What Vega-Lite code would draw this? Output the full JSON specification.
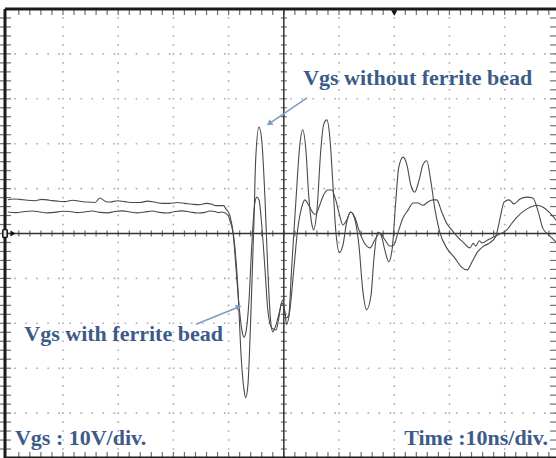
{
  "$schema": "https://vega.github.io/schema/vega-lite/v6.json",
  "width": 551,
  "height": 449,
  "autosize": {"type": "none"},
  "padding": {"left": 5, "top": 9, "right": 0, "bottom": 0},
  "background": "white",
  "config": {"view": {"stroke": null}},
  "datasets": {
    "traces": [
      {"s":"without","t":-50.0,"v":7.5},{"s":"without","t":-48.9,"v":7.7},{"s":"without","t":-47.8,"v":7.6},{"s":"without","t":-46.5,"v":7.4},{"s":"without","t":-45.1,"v":7.3},{"s":"without","t":-43.8,"v":7.6},{"s":"without","t":-42.4,"v":7.4},{"s":"without","t":-41.0,"v":7.2},{"s":"without","t":-39.7,"v":7.1},{"s":"without","t":-38.3,"v":7.4},{"s":"without","t":-37.0,"v":7.2},{"s":"without","t":-35.6,"v":7.0},{"s":"without","t":-34.2,"v":6.9},{"s":"without","t":-33.3,"v":7.9},{"s":"without","t":-32.4,"v":7.2},{"s":"without","t":-31.5,"v":7.0},{"s":"without","t":-30.1,"v":7.3},{"s":"without","t":-28.8,"v":7.1},{"s":"without","t":-27.4,"v":6.9},{"s":"without","t":-26.1,"v":6.9},{"s":"without","t":-24.7,"v":7.2},{"s":"without","t":-23.4,"v":7.0},{"s":"without","t":-22.0,"v":6.7},{"s":"without","t":-20.7,"v":6.7},{"s":"without","t":-19.3,"v":6.9},{"s":"without","t":-17.9,"v":6.7},{"s":"without","t":-16.5,"v":6.5},{"s":"without","t":-15.2,"v":6.4},{"s":"without","t":-14.1,"v":6.7},{"s":"without","t":-13.0,"v":6.5},{"s":"without","t":-12.3,"v":6.2},{"s":"without","t":-11.6,"v":6.2},{"s":"without","t":-10.9,"v":6.2},{"s":"without","t":-10.5,"v":5.5},{"s":"without","t":-9.8,"v":4.1},{"s":"without","t":-9.4,"v":1.9},{"s":"without","t":-8.9,"v":-2.6},{"s":"without","t":-8.3,"v":-12.6},{"s":"without","t":-7.8,"v":-25.9},{"s":"without","t":-7.2,"v":-34.9},{"s":"without","t":-6.9,"v":-36.6},{"s":"without","t":-6.5,"v":-33.7},{"s":"without","t":-6.0,"v":-19.3},{"s":"without","t":-5.4,"v":3.0},{"s":"without","t":-5.1,"v":16.4},{"s":"without","t":-4.5,"v":23.7},{"s":"without","t":-4.0,"v":20.8},{"s":"without","t":-3.4,"v":7.5},{"s":"without","t":-2.9,"v":-8.1},{"s":"without","t":-2.4,"v":-19.3},{"s":"without","t":-2.0,"v":-21.9},{"s":"without","t":-1.4,"v":-20.3},{"s":"without","t":-0.7,"v":-17.0},{"s":"without","t":-0.2,"v":-14.8},{"s":"without","t":0.4,"v":-18.8},{"s":"without","t":0.9,"v":-18.2},{"s":"without","t":1.4,"v":-8.1},{"s":"without","t":2.2,"v":7.5},{"s":"without","t":2.9,"v":19.7},{"s":"without","t":3.4,"v":23.1},{"s":"without","t":4.0,"v":18.6},{"s":"without","t":4.5,"v":8.6},{"s":"without","t":5.1,"v":1.9},{"s":"without","t":5.4,"v":0.8},{"s":"without","t":6.0,"v":5.2},{"s":"without","t":6.7,"v":18.6},{"s":"without","t":7.2,"v":24.2},{"s":"without","t":7.8,"v":25.3},{"s":"without","t":8.3,"v":21.9},{"s":"without","t":8.9,"v":10.8},{"s":"without","t":9.4,"v":0.8},{"s":"without","t":10.1,"v":-4.3},{"s":"without","t":10.7,"v":-2.6},{"s":"without","t":11.4,"v":2.6},{"s":"without","t":12.1,"v":4.8},{"s":"without","t":12.9,"v":3.0},{"s":"without","t":13.6,"v":-2.6},{"s":"without","t":14.3,"v":-12.6},{"s":"without","t":15.0,"v":-17.0},{"s":"without","t":15.8,"v":-13.7},{"s":"without","t":16.3,"v":-5.9},{"s":"without","t":17.0,"v":0.3},{"s":"without","t":17.6,"v":-0.3},{"s":"without","t":18.3,"v":-3.7},{"s":"without","t":19.0,"v":-6.3},{"s":"without","t":19.6,"v":-3.7},{"s":"without","t":20.3,"v":7.5},{"s":"without","t":20.8,"v":14.6},{"s":"without","t":21.6,"v":17.0},{"s":"without","t":22.3,"v":15.3},{"s":"without","t":23.0,"v":10.8},{"s":"without","t":23.7,"v":9.2},{"s":"without","t":24.5,"v":11.9},{"s":"without","t":25.2,"v":15.3},{"s":"without","t":25.9,"v":16.2},{"s":"without","t":26.6,"v":11.9},{"s":"without","t":27.4,"v":5.2},{"s":"without","t":28.3,"v":0.1},{"s":"without","t":29.5,"v":-3.2},{"s":"without","t":31.0,"v":-5.5},{"s":"without","t":32.2,"v":-7.5},{"s":"without","t":33.2,"v":-8.1},{"s":"without","t":34.1,"v":-6.3},{"s":"without","t":35.1,"v":-4.1},{"s":"without","t":36.2,"v":-2.8},{"s":"without","t":37.3,"v":-2.1},{"s":"without","t":38.4,"v":-0.6},{"s":"without","t":39.1,"v":3.0},{"s":"without","t":39.9,"v":7.0},{"s":"without","t":40.8,"v":7.5},{"s":"without","t":41.7,"v":6.6},{"s":"without","t":42.8,"v":7.7},{"s":"without","t":44.0,"v":8.1},{"s":"without","t":45.1,"v":7.9},{"s":"without","t":46.0,"v":5.2},{"s":"without","t":46.9,"v":1.2},{"s":"without","t":48.0,"v":-0.3},{"s":"without","t":49.3,"v":-1.9},
      {"s":"with","t":-50.0,"v":4.8},{"s":"with","t":-48.5,"v":4.65},{"s":"with","t":-46.9,"v":4.9},{"s":"with","t":-45.5,"v":5.0},{"s":"with","t":-44.2,"v":4.8},{"s":"with","t":-42.8,"v":4.6},{"s":"with","t":-41.5,"v":4.7},{"s":"with","t":-40.1,"v":4.95},{"s":"with","t":-38.8,"v":4.9},{"s":"with","t":-37.4,"v":4.65},{"s":"with","t":-36.1,"v":4.8},{"s":"with","t":-34.7,"v":5.0},{"s":"with","t":-33.3,"v":4.7},{"s":"with","t":-31.9,"v":4.6},{"s":"with","t":-30.6,"v":4.9},{"s":"with","t":-29.2,"v":5.05},{"s":"with","t":-27.9,"v":4.8},{"s":"with","t":-26.5,"v":4.6},{"s":"with","t":-25.2,"v":4.8},{"s":"with","t":-23.8,"v":5.0},{"s":"with","t":-22.5,"v":4.7},{"s":"with","t":-21.1,"v":4.55},{"s":"with","t":-19.7,"v":4.9},{"s":"with","t":-18.4,"v":5.05},{"s":"with","t":-17.0,"v":4.8},{"s":"with","t":-15.6,"v":4.55},{"s":"with","t":-14.3,"v":4.7},{"s":"with","t":-13.4,"v":5.0},{"s":"with","t":-12.5,"v":4.9},{"s":"with","t":-11.8,"v":4.65},{"s":"with","t":-11.2,"v":4.8},{"s":"with","t":-10.1,"v":4.1},{"s":"with","t":-9.8,"v":3.0},{"s":"with","t":-9.2,"v":0.1},{"s":"with","t":-8.7,"v":-7.0},{"s":"with","t":-8.2,"v":-14.8},{"s":"with","t":-7.6,"v":-21.5},{"s":"with","t":-7.2,"v":-23.1},{"s":"with","t":-6.9,"v":-22.2},{"s":"with","t":-6.3,"v":-14.8},{"s":"with","t":-5.8,"v":-2.6},{"s":"with","t":-5.3,"v":6.3},{"s":"with","t":-4.9,"v":8.1},{"s":"with","t":-4.5,"v":7.5},{"s":"with","t":-4.0,"v":1.9},{"s":"with","t":-3.4,"v":-8.1},{"s":"with","t":-2.9,"v":-17.0},{"s":"with","t":-2.2,"v":-21.0},{"s":"with","t":-1.4,"v":-21.5},{"s":"with","t":-0.9,"v":-18.8},{"s":"with","t":-0.4,"v":-15.5},{"s":"with","t":0.2,"v":-17.5},{"s":"with","t":0.5,"v":-20.3},{"s":"with","t":1.1,"v":-17.0},{"s":"with","t":1.8,"v":-8.1},{"s":"with","t":2.5,"v":0.8},{"s":"with","t":3.3,"v":6.1},{"s":"with","t":3.8,"v":7.5},{"s":"with","t":4.5,"v":6.3},{"s":"with","t":5.3,"v":4.6},{"s":"with","t":5.8,"v":4.3},{"s":"with","t":6.5,"v":6.3},{"s":"with","t":7.2,"v":8.6},{"s":"with","t":8.0,"v":9.7},{"s":"with","t":8.7,"v":9.7},{"s":"with","t":9.4,"v":7.5},{"s":"with","t":10.1,"v":4.1},{"s":"with","t":10.7,"v":1.9},{"s":"with","t":11.4,"v":3.0},{"s":"with","t":12.1,"v":4.8},{"s":"with","t":12.9,"v":3.5},{"s":"with","t":13.6,"v":0.8},{"s":"with","t":14.5,"v":-1.9},{"s":"with","t":15.6,"v":-3.2},{"s":"with","t":16.5,"v":-1.4},{"s":"with","t":17.4,"v":0.1},{"s":"with","t":18.3,"v":-1.4},{"s":"with","t":19.2,"v":-2.8},{"s":"with","t":19.9,"v":-2.6},{"s":"with","t":20.7,"v":0.3},{"s":"with","t":21.6,"v":3.5},{"s":"with","t":22.5,"v":5.2},{"s":"with","t":23.4,"v":6.8},{"s":"with","t":24.3,"v":6.8},{"s":"with","t":25.2,"v":6.3},{"s":"with","t":26.1,"v":7.0},{"s":"with","t":27.0,"v":7.5},{"s":"with","t":27.7,"v":7.5},{"s":"with","t":28.6,"v":4.8},{"s":"with","t":29.5,"v":2.3},{"s":"with","t":30.4,"v":0.8},{"s":"with","t":31.5,"v":-0.8},{"s":"with","t":32.6,"v":-2.1},{"s":"with","t":33.7,"v":-3.2},{"s":"with","t":34.3,"v":-2.2},{"s":"with","t":34.8,"v":-2.8},{"s":"with","t":35.4,"v":-1.6},{"s":"with","t":35.9,"v":-2.1},{"s":"with","t":37.0,"v":-1.4},{"s":"with","t":38.0,"v":-0.8},{"s":"with","t":39.1,"v":-0.1},{"s":"with","t":40.4,"v":0.8},{"s":"with","t":41.5,"v":2.6},{"s":"with","t":42.6,"v":4.1},{"s":"with","t":43.7,"v":5.2},{"s":"with","t":44.7,"v":5.9},{"s":"with","t":45.8,"v":6.3},{"s":"with","t":46.9,"v":5.9},{"s":"with","t":48.0,"v":4.8},{"s":"with","t":49.3,"v":3.0}
    ],
    "grat": [
      {"p":-48},{"p":-46},{"p":-44},{"p":-42},{"p":-40},{"p":-38},{"p":-36},{"p":-34},{"p":-32},{"p":-30},{"p":-28},{"p":-26},{"p":-24},{"p":-22},{"p":-20},{"p":-18},{"p":-16},{"p":-14},{"p":-12},{"p":-10},{"p":-8},{"p":-6},{"p":-4},{"p":-2},{"p":0},{"p":2},{"p":4},{"p":6},{"p":8},{"p":10},{"p":12},{"p":14},{"p":16},{"p":18},{"p":20},{"p":22},{"p":24},{"p":26},{"p":28},{"p":30},{"p":32},{"p":34},{"p":36},{"p":38},{"p":40},{"p":42},{"p":44},{"p":46},{"p":48}
    ],
    "divs": [
      {"g":-40},{"g":-30},{"g":-20},{"g":-10},{"g":10},{"g":20},{"g":30},{"g":40}
    ],
    "labels": [
      {"t":3.5,"v":33.1,"label":"Vgs without ferrite bead"},
      {"t":-47.0,"v":-23.9,"label":"Vgs with ferrite bead"},
      {"t":-48.7,"v":-47.1,"label":"Vgs : 10V/div."},
      {"t":21.8,"v":-47.1,"label":"Time :10ns/div."}
    ],
    "arrows": [
      {"t":4.2,"v":30.2,"t2":-2.5,"v2":24.6},
      {"t":-15.9,"v":-20.2,"t2":-8.3,"v2":-16.4}
    ]
  },
  "layer": [
    {
      "data": {"name": "divs"},
      "mark": {"type": "rule", "color": "#acacac", "strokeWidth": 1.6, "strokeDash": [1.6, 7.38], "strokeDashOffset": 0.8},
      "encoding": {
        "x": {"field": "g", "type": "quantitative", "scale": {"domain": [-50.5, 49.3], "nice": false, "zero": false}, "axis": null}
      }
    },
    {
      "data": {"name": "divs"},
      "mark": {"type": "rule", "color": "#acacac", "strokeWidth": 1.6, "strokeDash": [1.6, 9.44], "strokeDashOffset": 0.8},
      "encoding": {
        "y": {"field": "g", "type": "quantitative", "scale": {"domain": [-50, 50], "nice": false, "zero": false}, "axis": null}
      }
    },
    {
      "data": {"name": "grat"},
      "mark": {"type": "tick", "orient": "vertical", "size": 6, "thickness": 1.2, "color": "#333"},
      "encoding": {
        "x": {"field": "p", "type": "quantitative", "axis": null},
        "y": {"datum": 0, "type": "quantitative", "axis": null}
      }
    },
    {
      "data": {"name": "grat"},
      "mark": {"type": "tick", "orient": "horizontal", "size": 6, "thickness": 1.2, "color": "#333"},
      "encoding": {
        "y": {"field": "p", "type": "quantitative", "axis": null},
        "x": {"datum": 0, "type": "quantitative", "axis": null}
      }
    },
    {
      "data": {"values": [{}]},
      "mark": {"type": "rule", "color": "#333", "strokeWidth": 1.5},
      "encoding": {"x": {"datum": 0, "type": "quantitative", "axis": null}}
    },
    {
      "data": {"values": [{}]},
      "mark": {"type": "rule", "color": "#333", "strokeWidth": 1.5},
      "encoding": {"y": {"datum": 0, "type": "quantitative", "axis": null}}
    },
    {
      "data": {"name": "grat"},
      "mark": {"type": "tick", "orient": "horizontal", "size": 12, "thickness": 1.2, "color": "#333"},
      "encoding": {
        "y": {"field": "p", "type": "quantitative", "axis": null},
        "x": {"datum": -50.5, "type": "quantitative", "axis": null}
      }
    },
    {
      "data": {"name": "grat"},
      "mark": {"type": "tick", "orient": "horizontal", "size": 12, "thickness": 1.2, "color": "#333"},
      "encoding": {
        "y": {"field": "p", "type": "quantitative", "axis": null},
        "x": {"datum": 49.3, "type": "quantitative", "axis": null}
      }
    },
    {
      "data": {"name": "grat"},
      "mark": {"type": "tick", "orient": "vertical", "size": 6, "thickness": 1.2, "color": "#333", "yOffset": 3},
      "encoding": {
        "x": {"field": "p", "type": "quantitative", "axis": null},
        "y": {"datum": 50, "type": "quantitative", "axis": null}
      }
    },
    {
      "data": {"name": "grat"},
      "mark": {"type": "tick", "orient": "vertical", "size": 12, "thickness": 1.2, "color": "#333"},
      "encoding": {
        "x": {"field": "p", "type": "quantitative", "axis": null},
        "y": {"datum": -50, "type": "quantitative", "axis": null}
      }
    },
    {
      "data": {"values": [{}]},
      "mark": {"type": "rule", "color": "#1a1a1a", "strokeWidth": 3},
      "encoding": {"x": {"datum": -50.5, "type": "quantitative", "axis": null}}
    },
    {
      "data": {"values": [{}]},
      "mark": {"type": "rule", "color": "#1a1a1a", "strokeWidth": 3},
      "encoding": {"y": {"datum": 50, "type": "quantitative", "axis": null}}
    },
    {
      "data": {"values": [{}]},
      "mark": {"type": "rule", "color": "#1a1a1a", "strokeWidth": 3},
      "encoding": {"y": {"datum": -50, "type": "quantitative", "axis": null}}
    },
    {
      "data": {"name": "traces"},
      "mark": {"type": "line", "color": "#4a4a4a", "strokeWidth": 1.1, "interpolate": "monotone"},
      "encoding": {
        "x": {"field": "t", "type": "quantitative", "axis": null},
        "y": {"field": "v", "type": "quantitative", "axis": null},
        "detail": {"field": "s"}
      }
    },
    {
      "data": {"name": "arrows"},
      "mark": {"type": "rule", "color": "#7f9cc4", "strokeWidth": 1.6},
      "encoding": {
        "x": {"field": "t", "type": "quantitative", "axis": null},
        "y": {"field": "v", "type": "quantitative", "axis": null},
        "x2": {"field": "t2"},
        "y2": {"field": "v2"}
      }
    },
    {
      "data": {"values": [{"t": -2.5, "v": 24.6}]},
      "mark": {"type": "point", "shape": "triangle", "filled": true, "color": "#7f9cc4", "size": 45, "angle": 236, "opacity": 1},
      "encoding": {
        "x": {"field": "t", "type": "quantitative", "axis": null},
        "y": {"field": "v", "type": "quantitative", "axis": null}
      }
    },
    {
      "data": {"values": [{"t": -8.3, "v": -16.4}]},
      "mark": {"type": "point", "shape": "triangle", "filled": true, "color": "#7f9cc4", "size": 45, "angle": 68, "opacity": 1},
      "encoding": {
        "x": {"field": "t", "type": "quantitative", "axis": null},
        "y": {"field": "v", "type": "quantitative", "axis": null}
      }
    },
    {
      "data": {"name": "labels"},
      "mark": {"type": "text", "align": "left", "baseline": "alphabetic", "font": "Liberation Serif", "fontWeight": "bold", "fontSize": 22, "color": "#3d5b89"},
      "encoding": {
        "x": {"field": "t", "type": "quantitative", "axis": null},
        "y": {"field": "v", "type": "quantitative", "axis": null},
        "text": {"field": "label"}
      }
    },
    {
      "data": {"values": [{"t": 20, "v": 50}]},
      "mark": {"type": "point", "shape": "triangle-down", "filled": true, "color": "#111", "size": 40, "yOffset": 4, "opacity": 1},
      "encoding": {
        "x": {"field": "t", "type": "quantitative", "axis": null},
        "y": {"field": "v", "type": "quantitative", "axis": null}
      }
    },
    {
      "data": {"values": [{"t": -50.5, "v": 0}]},
      "mark": {"type": "point", "shape": "triangle-right", "filled": true, "color": "#111", "size": 35, "xOffset": 8, "opacity": 1},
      "encoding": {
        "x": {"field": "t", "type": "quantitative", "axis": null},
        "y": {"field": "v", "type": "quantitative", "axis": null}
      }
    },
    {
      "data": {"values": [{"t": -50.5, "v": 0}]},
      "mark": {"type": "point", "shape": "M-0.7,-1C-0.7,-1.35 0.7,-1.35 0.7,-1L0.7,1C0.7,1.35 -0.7,1.35 -0.7,1Z", "filled": true, "fill": "#e8e8e8", "stroke": "#111", "strokeWidth": 1.5, "size": 40, "opacity": 1},
      "encoding": {
        "x": {"field": "t", "type": "quantitative", "axis": null},
        "y": {"field": "v", "type": "quantitative", "axis": null}
      }
    }
  ]
}
